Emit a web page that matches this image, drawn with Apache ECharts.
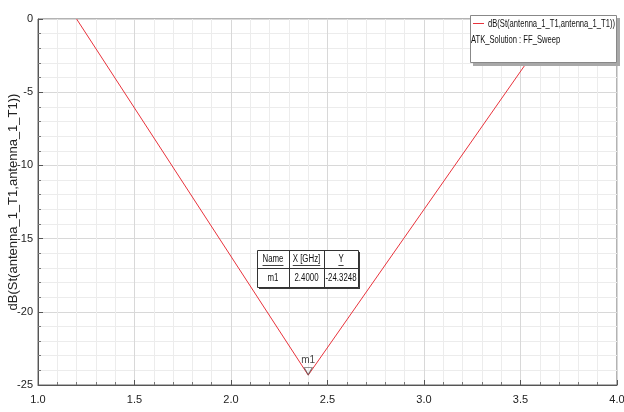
<!DOCTYPE html>
<html>
<head>
<meta charset="utf-8">
<script src="https://cdn.jsdelivr.net/npm/echarts@6/dist/echarts.min.js"></script>
<style>
  html, body { margin: 0; padding: 0; background: #fff; }
  #chart { width: 624px; height: 412px; }
</style>
</head>
<body>
<div id="chart"></div>
<script>
// S11 sweep of the antenna port
const freqGHz = [1.2, 2.4, 3.69];
const s11dB = [0, -24.3248, 0];

// marker m1
const markerName = 'm1';
const markerX = 2.4;
const markerY = -24.3248;

const traceName = 'dB(St(antenna_1_T1,antenna_1_T1))';
const solutionName = 'ATK_Solution : FF_Sweep';
const yAxisTitle = 'dB(St(antenna_1_T1,antenna_1_T1))';
const tableHeader = ['Name', 'X [GHz]', 'Y'];

const FONT = "'Liberation Sans', Arial, sans-serif";
const TRACE_COLOR = '#e8333c';

// horizontal squeeze so a string fits a given width
const measureCtx = document.createElement('canvas').getContext('2d');
function squeeze(text, font, width) {
  measureCtx.font = font;
  return Math.min(1, width / measureCtx.measureText(text).width);
}

const chart = echarts.init(document.getElementById('chart'));

// marker table overlay
const tb = { x: 257, y: 250, w: 101, h: 37, cols: [257, 289, 324, 358], mid: 268 };
const cellCenters = [(tb.cols[0] + tb.cols[1]) / 2, (tb.cols[1] + tb.cols[2]) / 2, (tb.cols[2] + tb.cols[3]) / 2];
const rowValues = [markerName, markerX.toFixed(4), markerY.toFixed(4)];
const TABLE_FONT = '10px ' + FONT;
const tableScale = squeeze(rowValues[2], TABLE_FONT, 31);

const Z = 100;
function txt(x, y, t, font, sx, align) {
  return {
    type: 'text', x: x, y: y, z: Z + 2, scaleX: sx, scaleY: 1,
    style: { text: t, fill: '#111', font: font, align: align || 'center', verticalAlign: 'middle' }
  };
}
function seg(x1, y1, x2, y2, color, w) {
  return { type: 'line', z: Z + 1, shape: { x1: x1, y1: y1, x2: x2, y2: y2 }, style: { stroke: color, lineWidth: w || 1 } };
}

const graphics = [
  { type: 'rect', z: Z, shape: { x: tb.x + 2, y: tb.y + 2, width: tb.w, height: tb.h }, style: { fill: '#3a3a3a' } },
  { type: 'rect', z: Z, shape: { x: tb.x + 0.5, y: tb.y + 0.5, width: tb.w, height: tb.h }, style: { fill: '#fff', stroke: '#333', lineWidth: 1 } },
  seg(tb.x, tb.mid + 0.5, tb.x + tb.w, tb.mid + 0.5, '#333'),
  seg(tb.cols[1] + 0.5, tb.y, tb.cols[1] + 0.5, tb.y + tb.h, '#333'),
  seg(tb.cols[2] + 0.5, tb.y, tb.cols[2] + 0.5, tb.y + tb.h, '#333')
];
tableHeader.forEach((h, i) => {
  graphics.push(txt(cellCenters[i], 259.5, h, TABLE_FONT, tableScale));
  measureCtx.font = TABLE_FONT;
  const half = measureCtx.measureText(h).width * tableScale / 2;
  graphics.push(seg(cellCenters[i] - half, 265.5, cellCenters[i] + half, 265.5, '#111', 0.8));
});
rowValues.forEach((v, i) => graphics.push(txt(cellCenters[i], 278, v, TABLE_FONT, tableScale)));

// legend overlay
const LEGEND_FONT = '11px ' + FONT;
const legendScale = squeeze(traceName, LEGEND_FONT, 127);
graphics.push(
  { type: 'rect', z: Z, shape: { x: 473, y: 18, width: 147, height: 48 }, style: { fill: '#a8a8a8' } },
  { type: 'rect', z: Z, shape: { x: 470.5, y: 15.5, width: 146, height: 47 }, style: { fill: '#fff', stroke: '#888', lineWidth: 1 } },
  seg(473, 23.5, 484, 23.5, TRACE_COLOR),
  txt(488, 24, traceName, LEGEND_FONT, legendScale, 'left'),
  txt(471, 40, solutionName, LEGEND_FONT, legendScale, 'left')
);

const axisCommon = {
  axisLine: { show: true, onZero: false, lineStyle: { color: '#555' } },
  axisTick: { show: true, inside: true, length: 5, lineStyle: { color: '#555' } },
  minorTick: { show: true, splitNumber: 5, length: 3, lineStyle: { color: '#777' } },
  splitLine: { show: true, lineStyle: { color: '#d8d8d8', width: 1 } },
  minorSplitLine: { show: true, lineStyle: { color: '#ececec', width: 1 } }
};

const option = {
  backgroundColor: '#fff',
  animation: false,
  grid: {
    left: 38, right: 7, top: 19, bottom: 27,
    containLabel: false, outerBoundsMode: 'none',
    show: true, borderColor: '#666', borderWidth: 1, backgroundColor: '#fff'
  },
  xAxis: Object.assign({
    type: 'value', min: 1, max: 4, interval: 0.5,
    axisLabel: { color: '#222', fontFamily: FONT, fontSize: 11, margin: 9, formatter: v => v.toFixed(1) }
  }, axisCommon),
  yAxis: Object.assign({
    type: 'value', min: -25, max: 0, interval: 5,
    name: yAxisTitle, nameLocation: 'middle', nameGap: 18, nameMoveOverlap: false,
    nameTextStyle: { color: '#222', fontFamily: FONT, fontSize: 13 },
    axisLabel: { color: '#222', fontFamily: FONT, fontSize: 11, margin: 5 }
  }, axisCommon),
  series: [
    {
      name: traceName, type: 'line',
      data: freqGHz.map((f, i) => [f, s11dB[i]]),
      showSymbol: false, symbol: 'none',
      lineStyle: { color: TRACE_COLOR, width: 1 },
      z: 3
    },
    {
      name: markerName, type: 'scatter',
      data: [[markerX, markerY]],
      symbol: 'triangle', symbolRotate: 180, symbolSize: [8, 7], symbolOffset: [0, -4],
      itemStyle: { color: 'rgba(255,255,255,0)', borderColor: '#555', borderWidth: 1 },
      label: { show: true, position: 'top', distance: 2, formatter: markerName, color: '#111', fontFamily: FONT, fontSize: 10 },
      z: 4
    }
  ],
  graphic: graphics
};

chart.setOption(option);
</script>
</body>
</html>
